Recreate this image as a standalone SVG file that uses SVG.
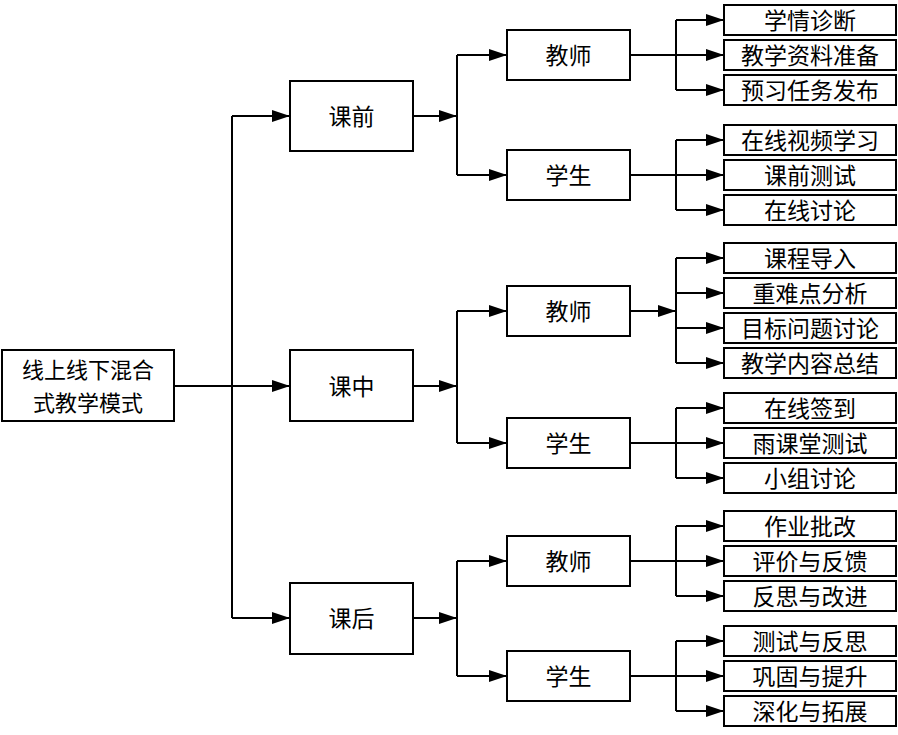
<svg xmlns="http://www.w3.org/2000/svg" width="898" height="735" viewBox="0 0 898 735">
<style>
.box{fill:#fff;stroke:#000;stroke-width:2}
.t{font-family:"Noto Sans CJK SC","Noto Sans",sans-serif;font-size:23px;fill:#000;text-anchor:middle;dominant-baseline:central;transform:translateY(-1.5px)}
.r{font-size:22px}
.c{fill:none;stroke:#000;stroke-width:2}
.a{fill:none;stroke:#000;stroke-width:2;marker-end:url(#ah)}
</style>
<defs>
<marker id="ah" markerUnits="userSpaceOnUse" markerWidth="18" markerHeight="12" refX="18" refY="6" orient="auto">
<path d="M0,0 L18,6 L0,12 z" fill="#000"/>
</marker>
</defs>
<rect width="898" height="735" fill="#fff"/>
<g id="connectors">
<path class="c" d="M232,116 V618"/>
<path class="a" d="M174,386 H290"/>
<path class="a" d="M232,116 H290"/>
<path class="a" d="M232,618 H290"/>
<path class="a" d="M413,116 H457"/>
<path class="a" d="M413,386 H457"/>
<path class="a" d="M413,618 H457"/>
<path class="c" d="M457,55 V175"/>
<path class="c" d="M457,311 V443"/>
<path class="c" d="M457,561 V676"/>
<path class="a" d="M457,55 H507"/>
<path class="a" d="M457,175 H507"/>
<path class="a" d="M457,311 H507"/>
<path class="a" d="M457,443 H507"/>
<path class="a" d="M457,561 H507"/>
<path class="a" d="M457,676 H507"/>
<path class="c" d="M676,20 V90"/>
<path class="c" d="M676,140 V210"/>
<path class="c" d="M676,258 V363"/>
<path class="c" d="M676,408 V478"/>
<path class="c" d="M676,526 V596"/>
<path class="c" d="M676,641 V711"/>
<path class="c" d="M630,55 H676"/>
<path class="c" d="M630,175 H676"/>
<path class="a" d="M630,311 H676"/>
<path class="c" d="M630,443 H676"/>
<path class="c" d="M630,561 H676"/>
<path class="c" d="M630,676 H676"/>
<path class="a" d="M676,20 H724"/>
<path class="a" d="M676,55 H724"/>
<path class="a" d="M676,90 H724"/>
<path class="a" d="M676,140 H724"/>
<path class="a" d="M676,175 H724"/>
<path class="a" d="M676,210 H724"/>
<path class="a" d="M676,258 H724"/>
<path class="a" d="M676,293 H724"/>
<path class="a" d="M676,328 H724"/>
<path class="a" d="M676,363 H724"/>
<path class="a" d="M676,408 H724"/>
<path class="a" d="M676,443 H724"/>
<path class="a" d="M676,478 H724"/>
<path class="a" d="M676,526 H724"/>
<path class="a" d="M676,561 H724"/>
<path class="a" d="M676,596 H724"/>
<path class="a" d="M676,641 H724"/>
<path class="a" d="M676,676 H724"/>
<path class="a" d="M676,711 H724"/>
</g>
<g id="root"><rect class="box" x="2" y="350" width="172" height="71"/><text class="t r" x="88" y="369">线上线下混合</text><text class="t r" x="88" y="402">式教学模式</text></g>
<g id="kq"><rect class="box" x="290" y="81" width="123" height="70"/><text class="t" x="351.5" y="116">课前</text></g>
<g id="kz"><rect class="box" x="290" y="350" width="123" height="71"/><text class="t" x="351.5" y="386">课中</text></g>
<g id="kh"><rect class="box" x="290" y="583" width="123" height="71"/><text class="t" x="351.5" y="618">课后</text></g>
<g id="kq-js"><rect class="box" x="507" y="30" width="123" height="50"/><text class="t" x="568.5" y="55">教师</text></g>
<g id="kq-xs"><rect class="box" x="507" y="150" width="123" height="50"/><text class="t" x="568.5" y="175">学生</text></g>
<g id="kz-js"><rect class="box" x="507" y="286" width="123" height="50"/><text class="t" x="568.5" y="311">教师</text></g>
<g id="kz-xs"><rect class="box" x="507" y="418" width="123" height="50"/><text class="t" x="568.5" y="443">学生</text></g>
<g id="kh-js"><rect class="box" x="507" y="536" width="123" height="50"/><text class="t" x="568.5" y="561">教师</text></g>
<g id="kh-xs"><rect class="box" x="507" y="651" width="123" height="50"/><text class="t" x="568.5" y="676">学生</text></g>
<g id="l1"><rect class="box" x="724" y="5" width="172" height="30"/><text class="t" x="810" y="20">学情诊断</text></g>
<g id="l2"><rect class="box" x="724" y="40" width="172" height="30"/><text class="t" x="810" y="55">教学资料准备</text></g>
<g id="l3"><rect class="box" x="724" y="75" width="172" height="30"/><text class="t" x="810" y="90">预习任务发布</text></g>
<g id="l4"><rect class="box" x="724" y="125" width="172" height="30"/><text class="t" x="810" y="140">在线视频学习</text></g>
<g id="l5"><rect class="box" x="724" y="160" width="172" height="30"/><text class="t" x="810" y="175">课前测试</text></g>
<g id="l6"><rect class="box" x="724" y="195" width="172" height="30"/><text class="t" x="810" y="210">在线讨论</text></g>
<g id="l7"><rect class="box" x="724" y="243" width="172" height="30"/><text class="t" x="810" y="258">课程导入</text></g>
<g id="l8"><rect class="box" x="724" y="278" width="172" height="30"/><text class="t" x="810" y="293">重难点分析</text></g>
<g id="l9"><rect class="box" x="724" y="313" width="172" height="30"/><text class="t" x="810" y="328">目标问题讨论</text></g>
<g id="l10"><rect class="box" x="724" y="348" width="172" height="30"/><text class="t" x="810" y="363">教学内容总结</text></g>
<g id="l11"><rect class="box" x="724" y="393" width="172" height="30"/><text class="t" x="810" y="408">在线签到</text></g>
<g id="l12"><rect class="box" x="724" y="428" width="172" height="30"/><text class="t" x="810" y="443">雨课堂测试</text></g>
<g id="l13"><rect class="box" x="724" y="463" width="172" height="30"/><text class="t" x="810" y="478">小组讨论</text></g>
<g id="l14"><rect class="box" x="724" y="511" width="172" height="30"/><text class="t" x="810" y="526">作业批改</text></g>
<g id="l15"><rect class="box" x="724" y="546" width="172" height="30"/><text class="t" x="810" y="561">评价与反馈</text></g>
<g id="l16"><rect class="box" x="724" y="581" width="172" height="30"/><text class="t" x="810" y="596">反思与改进</text></g>
<g id="l17"><rect class="box" x="724" y="626" width="172" height="30"/><text class="t" x="810" y="641">测试与反思</text></g>
<g id="l18"><rect class="box" x="724" y="661" width="172" height="30"/><text class="t" x="810" y="676">巩固与提升</text></g>
<g id="l19"><rect class="box" x="724" y="696" width="172" height="30"/><text class="t" x="810" y="711">深化与拓展</text></g>
</svg>
